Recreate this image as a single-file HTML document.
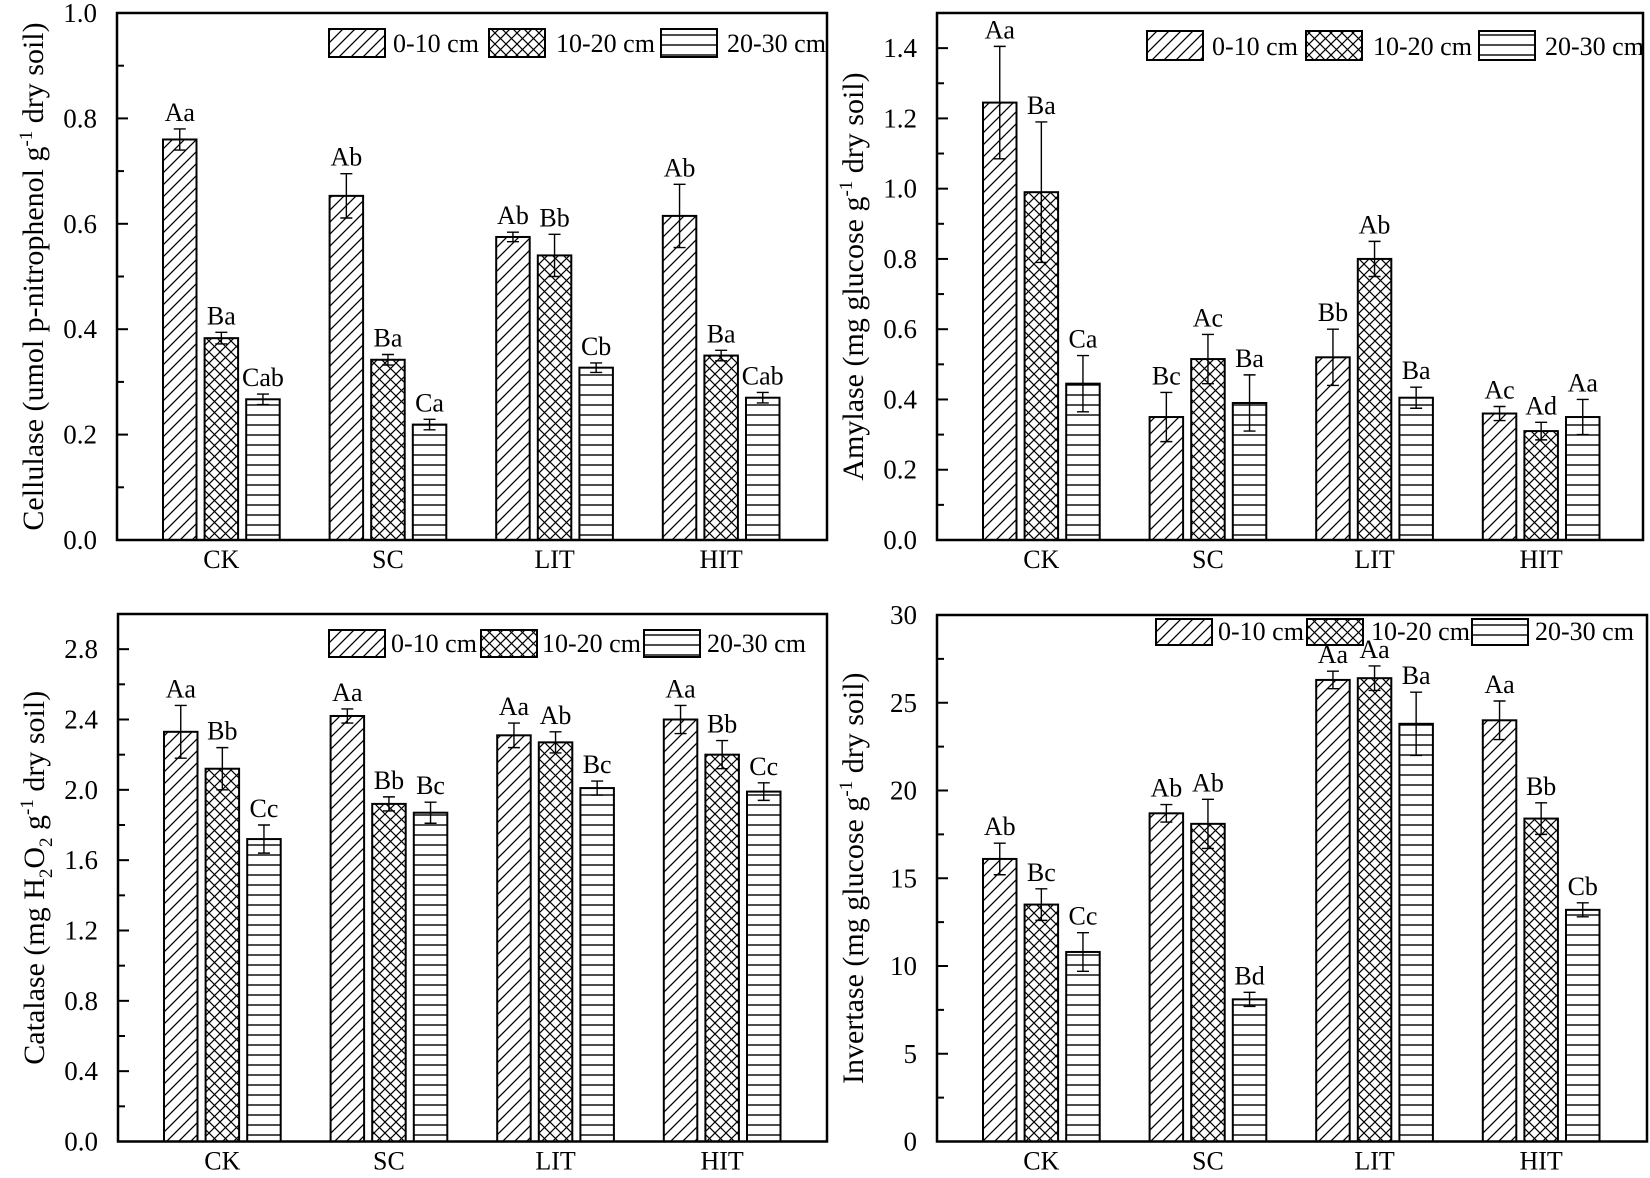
<!DOCTYPE html>
<html><head><meta charset="utf-8"><style>
html,body{margin:0;padding:0;background:#fff;}
svg text{font-family:"Liberation Serif","Times New Roman",serif;fill:#000;}
</style></head><body>
<svg id="s" width="1650" height="1173" xmlns="http://www.w3.org/2000/svg">
<defs>
<pattern id="pd" patternUnits="userSpaceOnUse" width="12" height="12">
<path d="M-3,3 L3,-3 M0,12 L12,0 M9,15 L15,9" stroke="#000" stroke-width="1.3"/>
</pattern>
<pattern id="px" patternUnits="userSpaceOnUse" width="11" height="11">
<path d="M0,0 L11,11 M0,11 L11,0" stroke="#000" stroke-width="1.2"/>
</pattern>
<pattern id="ph" patternUnits="userSpaceOnUse" width="10" height="10">
<path d="M0,5 L10,5" stroke="#000" stroke-width="1.4"/>
</pattern>
</defs>
</svg>
<script>
var svg=document.getElementById('s');var out='';
function T(x,y,t,o){o=o||{};out+='<text x="'+x+'" y="'+y+'" font-size="'+(o.fs||25)+'" text-anchor="'+(o.a||'middle')+'"'+(o.tr?' transform="'+o.tr+'"':'')+'>'+t+'</text>';}
var pats=['pd','px','ph'];
var panels=[
{L:117,R:827,T:13,B:540,max:1.0,maj:0.2,min:0.1,dec:1,
 label:'Cellulase (umol p-nitrophenol g<tspan dy="-11" font-size="19">-1</tspan><tspan dy="11"> dry soil)</tspan>',
 d:[[0.76,.02,'Aa'],[0.383,.011,'Ba'],[0.267,.01,'Cab'],[0.653,.042,'Ab'],[0.342,.01,'Ba'],[0.219,.01,'Ca'],[0.575,.009,'Ab'],[0.54,.04,'Bb'],[0.327,.009,'Cb'],[0.615,.06,'Ab'],[0.35,.01,'Ba'],[0.27,.01,'Cab']],
 leg:[329,393,489,556,661,727,29,28]},
{L:937,R:1643,T:13,B:540,max:1.5,maj:0.2,min:0.1,dec:1,top:1.4,
 label:'Amylase (mg glucose g<tspan dy="-11" font-size="19">-1</tspan><tspan dy="11"> dry soil)</tspan>',
 d:[[1.245,.16,'Aa'],[0.99,.2,'Ba'],[0.445,.08,'Ca'],[0.35,.07,'Bc'],[0.515,.07,'Ac'],[0.39,.08,'Ba'],[0.52,.08,'Bb'],[0.80,.05,'Ab'],[0.405,.03,'Ba'],[0.36,.02,'Ac'],[0.31,.025,'Ad'],[0.35,.05,'Aa']],
 leg:[1147,1212,1306,1373,1479,1545,31,29]},
{L:118,R:827,T:614,B:1141.5,max:3.0,maj:0.4,min:0.2,dec:1,top:2.8,
 label:'Catalase (mg H<tspan dy="8" font-size="19">2</tspan><tspan dy="-8">O</tspan><tspan dy="8" font-size="19">2</tspan><tspan dy="-8"> g</tspan><tspan dy="-11" font-size="19">-1</tspan><tspan dy="11"> dry soil)</tspan>',
 d:[[2.33,.15,'Aa'],[2.12,.12,'Bb'],[1.72,.08,'Cc'],[2.42,.04,'Aa'],[1.92,.04,'Bb'],[1.87,.06,'Bc'],[2.31,.07,'Aa'],[2.27,.06,'Ab'],[2.01,.04,'Bc'],[2.40,.08,'Aa'],[2.20,.08,'Bb'],[1.99,.05,'Cc']],
 leg:[329,391,481,542,644,707,630,27]},
{L:937,R:1647,T:615,B:1141.5,max:30,maj:5,min:2.5,dec:0,
 label:'Invertase (mg glucose g<tspan dy="-11" font-size="19">-1</tspan><tspan dy="11"> dry soil)</tspan>',
 d:[[16.1,.9,'Ab'],[13.5,.9,'Bc'],[10.8,1.1,'Cc'],[18.7,.5,'Ab'],[18.1,1.4,'Ab'],[8.1,.4,'Bd'],[26.3,.5,'Aa'],[26.4,.7,'Aa'],[23.8,1.8,'Ba'],[24.0,1.1,'Aa'],[18.4,.9,'Bb'],[13.2,.4,'Cb']],
 leg:[1156,1218,1307,1371,1472,1535,619,26]}
];
var cats=['CK','SC','LIT','HIT'];
panels.forEach(function(p){
 var sc=(p.B-p.T)/p.max;function Y(v){return p.B-v*sc;}
 for(var g=0;g<4;g++){for(var k=0;k<3;k++){
  var e=p.d[g*3+k];var x=p.L+46+g*166.6+k*41.6;var w=33.5;var y=Y(e[0]);
  out+='<rect x="'+x+'" y="'+y+'" width="'+w+'" height="'+(p.B-y)+'" fill="url(#'+pats[k]+')" stroke="#000" stroke-width="2"/>';
  var cx=x+w/2,y1=Y(e[0]+e[1]),y2=Y(e[0]-e[1]);
  out+='<path d="M'+cx+','+y1+'V'+y2+'M'+(cx-6)+','+y1+'H'+(cx+6)+'M'+(cx-6)+','+y2+'H'+(cx+6)+'" stroke="#000" stroke-width="1.4" fill="none"/>';
  T(cx,y1-8,e[2],{fs:26});
 }
 T(p.L+46+g*166.6+41.6+16.75,p.B+28,cats[g],{fs:26});}
 out+='<rect x="'+p.L+'" y="'+p.T+'" width="'+(p.R-p.L)+'" height="'+(p.B-p.T)+'" fill="none" stroke="#000" stroke-width="2.5"/>';
 var topv=p.top!==undefined?p.top:p.max;
 for(var v=0;v<=p.max+1e-9;v+=p.min){
  var y=Y(v);var isMaj=Math.abs(v/p.maj-Math.round(v/p.maj))<1e-6;
  out+='<path d="M'+p.L+','+y+'H'+(p.L+(isMaj?11:7))+'" stroke="#000" stroke-width="2"/>';
  if(isMaj&&v<=topv+1e-9)T(p.L-20,y+9,v.toFixed(p.dec),{a:'end',fs:27});
 }
 var lx=p.L-74,ly=(p.T+p.B)/2;
 T(lx,ly,p.label,{fs:30,tr:'rotate(-90 '+lx+' '+ly+')'});
 var l=p.leg,names=['0-10 cm','10-20 cm','20-30 cm'];
 for(var k=0;k<3;k++){
  out+='<rect x="'+l[k*2]+'" y="'+l[6]+'" width="56" height="'+l[7]+'" fill="url(#'+pats[k]+')" stroke="#000" stroke-width="2"/>';
  T(l[k*2+1],l[6]+l[7]-5,names[k],{a:'start',fs:26});
 }
});
svg.insertAdjacentHTML('beforeend',out);
</script>
</body></html>
